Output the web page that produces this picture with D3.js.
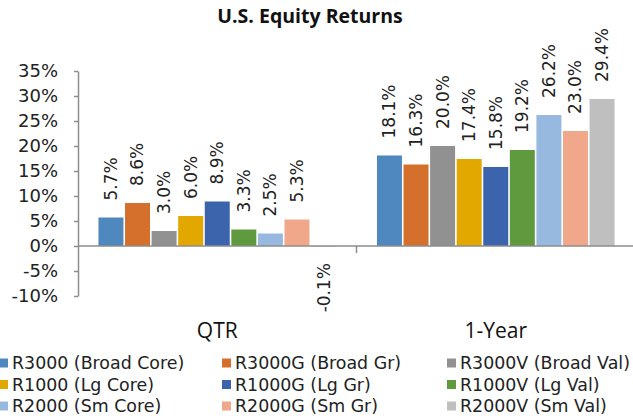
<!DOCTYPE html>
<html>
<head>
<meta charset="utf-8">
<script src="https://cdn.jsdelivr.net/npm/d3@7"></script>
<style>
  html, body { margin: 0; padding: 0; background: #fff; }
  svg { display: block; }
</style>
</head>
<body>
<svg id="chart" width="633" height="418"></svg>
<script>
const title = "U.S. Equity Returns";
const categories = ["QTR", "1-Year"];
const seriesNames = [
  "R3000 (Broad Core)", "R3000G (Broad Gr)", "R3000V (Broad Val)",
  "R1000 (Lg Core)", "R1000G (Lg Gr)", "R1000V (Lg Val)",
  "R2000 (Sm Core)", "R2000G (Sm Gr)", "R2000V (Sm Val)"
];
const seriesColors = [
  "#4F88BE", "#D4702C", "#919191",
  "#E2A800", "#3C64AD", "#609A3F",
  "#97B9E0", "#F0A78A", "#BFBFBF"
];
const qtrValues = [5.7, 8.6, 3.0, 6.0, 8.9, 3.3, 2.5, 5.3, -0.1];
const yearValues = [18.1, 16.3, 20.0, 17.4, 15.8, 19.2, 26.2, 23.0, 29.4];
const yTicks = [-10, -5, 0, 5, 10, 15, 20, 25, 30, 35];

const valuesByCategory = [qtrValues, yearValues];
const data = [];
categories.forEach((c, ci) => {
  seriesNames.forEach((s, si) => {
    data.push({ cat: c, series: s, idx: si, value: valuesByCategory[ci][si] });
  });
});

const svg = d3.select("#chart");
const axisColor = "#8c8c8c";

const x0 = d3.scaleBand().domain(categories).range([78, 635]).padding(0);
const x1 = d3.scaleBand().domain(seriesNames).range([0, x0.bandwidth()])
  .paddingInner(0.06).paddingOuter(0.77);
const y = d3.scaleLinear().domain([-10, 35]).range([296, 71]);
const color = d3.scaleOrdinal().domain(seriesNames).range(seriesColors);

// Title
svg.append("text")
  .attr("x", 310).attr("y", 23)
  .attr("text-anchor", "middle")
  .style("font-family", "'Open Sans', sans-serif")
  .style("font-weight", 700)
  .style("font-size", "19.5px")
  .attr("fill", "#111")
  .text(title);

// Y axis
const yAxis = d3.axisLeft(y).tickValues(yTicks).tickFormat(d => d + "%")
  .tickSize(4).tickSizeOuter(0).tickPadding(16);
const gy = svg.append("g").attr("transform", "translate(78,0)").call(yAxis);
gy.select(".domain").attr("stroke", axisColor).attr("stroke-width", 1.5);
gy.selectAll(".tick line").attr("stroke", axisColor).attr("stroke-width", 1.5);
gy.selectAll(".tick text")
  .style("font-family", "'DejaVu Sans', sans-serif")
  .style("font-size", "18px")
  .attr("fill", "#222");

// Bars
const bars = svg.append("g");
bars.selectAll("rect").data(data).join("rect")
  .attr("x", d => x0(d.cat) + x1(d.series))
  .attr("width", x1.bandwidth())
  .attr("y", d => y(Math.max(0, d.value)))
  .attr("height", d => Math.abs(y(d.value) - y(0)))
  .attr("fill", d => color(d.series));

// X axis (zero line) with category separators
const gx = svg.append("g");
gx.append("line")
  .attr("x1", 78).attr("x2", 635)
  .attr("y1", y(0)).attr("y2", y(0))
  .attr("stroke", axisColor).attr("stroke-width", 1.5);
gx.selectAll("line.sep").data(categories.slice(1)).join("line")
  .attr("class", "sep")
  .attr("x1", d => x0(d)).attr("x2", d => x0(d))
  .attr("y1", y(0)).attr("y2", y(0) + 7)
  .attr("stroke", axisColor).attr("stroke-width", 1.5);

// Data labels
svg.append("g").selectAll("text").data(data).join("text")
  .attr("transform", d => {
    const cx = x0(d.cat) + x1(d.series) + x1.bandwidth() / 2;
    const yy = d.value >= 0 ? y(d.value) - 17 : y(0) + 17;
    return `translate(${cx},${yy}) rotate(-90)`;
  })
  .attr("text-anchor", d => d.value >= 0 ? "start" : "end")
  .attr("dy", "0.35em")
  .style("font-family", "'DejaVu Sans', sans-serif")
  .style("font-size", "17px")
  .attr("fill", "#222")
  .text(d => d.value.toFixed(1) + "%");

// Category labels
svg.append("g").selectAll("text").data(categories).join("text")
  .attr("x", d => x0(d) + x0.bandwidth() / 2)
  .attr("y", 338)
  .attr("text-anchor", "middle")
  .style("font-family", "'Open Sans', sans-serif")
  .style("font-size", "21px")
  .attr("fill", "#111")
  .text(d => d);

// Legend
const legendColX = [-1, 222, 447];
const legendRowY = [363, 384.5, 406];
const lg = svg.append("g");
seriesNames.forEach((s, i) => {
  const col = i % 3, row = Math.floor(i / 3);
  const g = lg.append("g").attr("transform", `translate(${legendColX[col]},${legendRowY[row]})`);
  g.append("rect").attr("x", 0).attr("y", -4.5).attr("width", 9).attr("height", 9)
    .attr("fill", color(s));
  g.append("text").attr("x", 13).attr("y", 0).attr("dy", "0.35em")
    .style("font-family", "'DejaVu Sans', sans-serif")
    .style("font-size", "17.4px")
    .attr("fill", "#222")
    .text(s);
});
</script>
</body>
</html>
